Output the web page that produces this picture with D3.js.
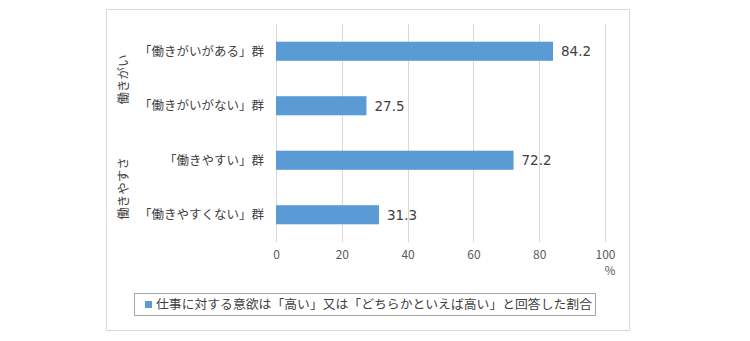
<!DOCTYPE html>
<html><head><meta charset="utf-8">
<script src="https://cdn.jsdelivr.net/npm/d3@7"></script>
<style>body{margin:0;background:#fff;} svg{display:block;}</style>
</head><body>
<svg id="c" width="750" height="341"></svg>
<script>
const categories = ["「働きがいがある」群","「働きがいがない」群","「働きやすい」群","「働きやすくない」群"];
const values = [84.2, 27.5, 72.2, 31.3];
const groups = [{name:"働きがい", members:[0,1]},{name:"働きやすさ", members:[2,3]}];
const ticks = [0,20,40,60,80,100];
const seriesName = "仕事に対する意欲は「高い」又は「どちらかといえば高い」と回答した割合";

const svg = d3.select("#c");
const font = "'Noto Sans CJK JP','Noto Sans',sans-serif";
svg.append("rect").attr("x",106.5).attr("y",9.5).attr("width",523).attr("height",321)
  .attr("fill","#fff").attr("stroke","#d9d9d9");

const x = d3.scaleLinear().domain([0,100]).range([276,605]);
const y = d3.scaleBand().domain(d3.range(categories.length)).range([24,242]).paddingInner(0.65).paddingOuter(0.325);

const g = svg.append("g");
g.selectAll("line.grid").data(ticks).join("line").attr("class","grid")
  .attr("x1",d=>Math.round(x(d))+0.5).attr("x2",d=>Math.round(x(d))+0.5)
  .attr("y1",24).attr("y2",242).attr("stroke","#d9d9d9");

g.selectAll("rect.bar").data(values).join("rect").attr("class","bar")
  .attr("x",x(0)).attr("y",(d,i)=>y(i)).attr("width",d=>x(d)-x(0)).attr("height",y.bandwidth())
  .attr("fill","#5b9bd5");

g.selectAll("text.val").data(values).join("text").attr("class","val")
  .attr("x",d=>x(d)+8).attr("y",(d,i)=>y(i)+y.bandwidth()/2).attr("dy","0.36em")
  .attr("font-family","Verdana,'DejaVu Sans',sans-serif").attr("font-size",13.5).attr("fill","#404040")
  .text(d=>d.toFixed(1));

g.selectAll("text.cat").data(categories).join("text").attr("class","cat")
  .attr("x",264).attr("y",(d,i)=>y(i)+y.bandwidth()/2).attr("dy","0.36em")
  .attr("text-anchor","end").attr("font-family",font).attr("font-size",12.5).attr("fill","#404040")
  .text(d=>d);

groups.forEach(gr=>{
  const cy = d3.mean(gr.members, i=>y(i)+y.bandwidth()/2);
  g.append("text").attr("transform",`translate(123,${cy+1}) rotate(-90)`).attr("dy","0.36em")
    .attr("text-anchor","middle").attr("font-family",font).attr("font-size",12.5).attr("fill","#404040")
    .text(gr.name);
});

const ax = svg.append("g").attr("transform","translate(0,242)")
  .call(d3.axisBottom(x).tickValues(ticks).tickSize(0).tickPadding(8));
ax.select(".domain").remove();
ax.selectAll("text").attr("font-family",font).attr("font-size",12).attr("fill","#595959");
svg.append("text").attr("x",610).attr("y",271).attr("dy","0.36em").attr("text-anchor","middle")
  .attr("font-family",font).attr("font-size",11.5).attr("fill","#595959").text("%");

// legend
svg.append("rect").attr("x",134.5).attr("y",293.5).attr("width",461).attr("height",22)
  .attr("fill","#fff").attr("stroke","#a6a6a6");
svg.append("rect").attr("x",145).attr("y",301).attr("width",7).attr("height",7).attr("fill","#5b9bd5");
svg.append("text").attr("x",156).attr("y",304.5).attr("dy","0.36em")
  .attr("font-family",font).attr("font-size",12.5).attr("fill","#404040")
  .attr("textLength",436).attr("lengthAdjust","spacingAndGlyphs").text(seriesName);
</script>
</body></html>
